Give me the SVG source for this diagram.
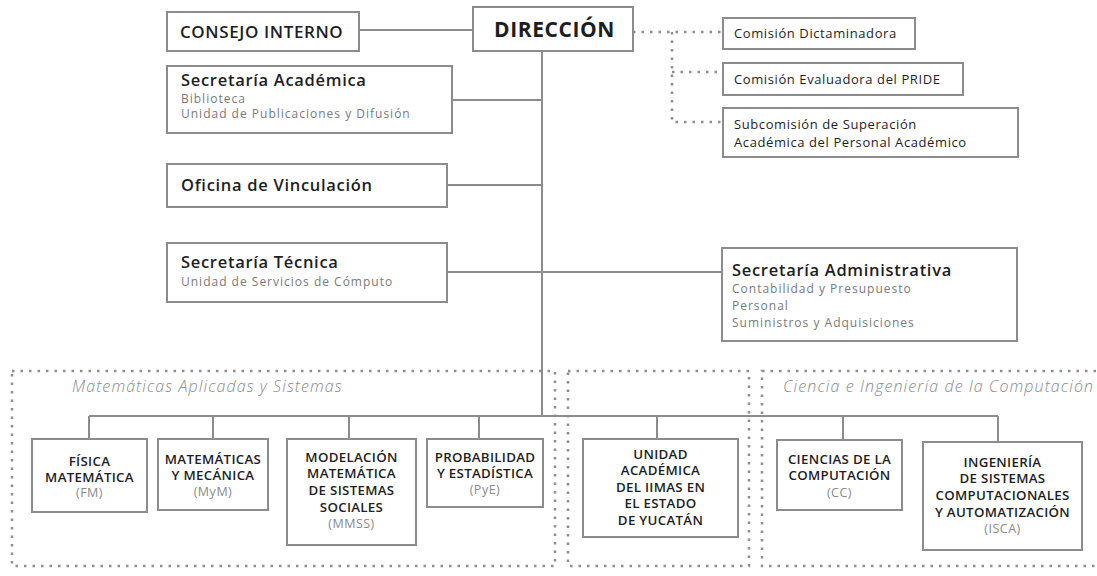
<svg xmlns="http://www.w3.org/2000/svg" width="1097" height="576" viewBox="0 0 1097 576">
<style>
  .box{fill:#fff;stroke:#8c8c8c;stroke-width:2}
  .ln{fill:none;stroke:#8c8c8c;stroke-width:2}
  .dot{fill:none;stroke:#8e8e8e;stroke-width:2.5;stroke-dasharray:2.5 6}
  text{font-family:"Open Sans","Noto Sans","DejaVu Sans",sans-serif;fill:#1e1e1e}
  .big{font-size:17px;font-weight:600;letter-spacing:0.6px}
  .dir{font-size:21px;font-weight:700;letter-spacing:0.6px}
  .ttl{font-size:16.5px;font-weight:600;letter-spacing:0.7px}
  .sub{font-size:12px;fill:#7a7a7a;letter-spacing:1px}
  .com{font-size:13px;font-weight:500;letter-spacing:0.6px}
  .unit{font-size:13.3px;font-weight:600;text-anchor:middle;letter-spacing:0.3px}
  .abbr{font-size:12.5px;fill:#8a8a8a;text-anchor:middle;letter-spacing:0.5px}
  .area{font-size:16px;font-style:italic;font-weight:300;fill:#8a8a8a;letter-spacing:1.1px}
</style>
<rect width="1097" height="576" fill="#fff"/>

<g id="areas">
  <rect class="dot" x="12" y="371" width="543" height="195"/>
  <rect class="dot" x="568" y="371" width="181" height="195"/>
  <rect class="dot" x="762" y="371" width="345" height="195"/>
  <text class="area" x="72" y="392">Matemáticas Aplicadas y Sistemas</text>
  <text class="area" x="783" y="392">Ciencia e Ingeniería de la Computación</text>
</g>

<g id="connectors">
  <line class="ln" x1="359" y1="30" x2="473" y2="30"/>
  <line class="ln" x1="542" y1="51" x2="542" y2="416"/>
  <line class="ln" x1="452" y1="100" x2="542" y2="100"/>
  <line class="ln" x1="447" y1="185" x2="542" y2="185"/>
  <line class="ln" x1="447" y1="272" x2="722" y2="272"/>
  <line class="ln" x1="89" y1="416" x2="998" y2="416"/>
  <line class="ln" x1="89" y1="416" x2="89" y2="439"/>
  <line class="ln" x1="213" y1="416" x2="213" y2="439"/>
  <line class="ln" x1="349" y1="416" x2="349" y2="439"/>
  <line class="ln" x1="479" y1="416" x2="479" y2="439"/>
  <line class="ln" x1="657" y1="416" x2="657" y2="439"/>
  <line class="ln" x1="843" y1="416" x2="843" y2="440"/>
  <line class="ln" x1="998" y1="416" x2="998" y2="442"/>
  <polyline class="dot" points="633,32 723,32"/>
  <polyline class="dot" points="672,32 672,122 723,122"/>
  <polyline class="dot" points="672,72 723,72"/>
</g>

<g id="consejo">
  <rect class="box" x="167" y="12" width="192" height="39"/>
  <text class="big" x="180" y="38">CONSEJO INTERNO</text>
</g>
<g id="direccion">
  <rect class="box" x="473" y="7" width="160" height="44"/>
  <text class="dir" x="494" y="37">DIRECCIÓN</text>
</g>
<g id="sec-academica">
  <rect class="box" x="167" y="66" width="285" height="67"/>
  <text class="ttl" x="181" y="86">Secretaría Académica</text>
  <text class="sub" x="181" y="103">Biblioteca</text>
  <text class="sub" x="181" y="118">Unidad de Publicaciones y Difusión</text>
</g>
<g id="oficina">
  <rect class="box" x="167" y="164" width="280" height="43"/>
  <text class="ttl" x="181" y="191">Oficina de Vinculación</text>
</g>
<g id="sec-tecnica">
  <rect class="box" x="167" y="243" width="280" height="59"/>
  <text class="ttl" x="181" y="268">Secretaría Técnica</text>
  <text class="sub" x="181" y="286">Unidad de Servicios de Cómputo</text>
</g>
<g id="sec-admin">
  <rect class="box" x="722" y="248" width="295" height="93"/>
  <text class="ttl" x="732" y="276">Secretaría Administrativa</text>
  <text class="sub" x="732" y="293">Contabilidad y Presupuesto</text>
  <text class="sub" x="732" y="310">Personal</text>
  <text class="sub" x="732" y="327">Suministros y Adquisiciones</text>
</g>
<g id="com-dictaminadora">
  <rect class="box" x="723" y="18" width="192" height="31"/>
  <text class="com" x="734" y="38">Comisión Dictaminadora</text>
</g>
<g id="com-evaluadora">
  <rect class="box" x="723" y="63" width="240" height="32"/>
  <text class="com" x="734" y="84">Comisión Evaluadora del PRIDE</text>
</g>
<g id="subcomision">
  <rect class="box" x="723" y="108" width="295" height="49"/>
  <text class="com" x="734" y="129">Subcomisión de Superación</text>
  <text class="com" x="734" y="147">Académica del Personal Académico</text>
</g>

<g id="fm">
  <rect class="box" x="32" y="439" width="115" height="73"/>
  <text class="unit" x="89.5" y="466">FÍSICA</text>
  <text class="unit" x="89.5" y="482">MATEMÁTICA</text>
  <text class="abbr" x="89.5" y="497">(FM)</text>
</g>
<g id="mym">
  <rect class="box" x="158" y="439" width="110" height="71"/>
  <text class="unit" x="213" y="464">MATEMÁTICAS</text>
  <text class="unit" x="213" y="480">Y MECÁNICA</text>
  <text class="abbr" x="213" y="496">(MyM)</text>
</g>
<g id="mmss">
  <rect class="box" x="287" y="439" width="129" height="106"/>
  <text class="unit" x="351.5" y="462">MODELACIÓN</text>
  <text class="unit" x="351.5" y="478">MATEMÁTICA</text>
  <text class="unit" x="351.5" y="495">DE SISTEMAS</text>
  <text class="unit" x="351.5" y="512">SOCIALES</text>
  <text class="abbr" x="351.5" y="528">(MMSS)</text>
</g>
<g id="pye">
  <rect class="box" x="427" y="439" width="116" height="68"/>
  <text class="unit" x="485" y="462">PROBABILIDAD</text>
  <text class="unit" x="485" y="478">Y ESTADÍSTICA</text>
  <text class="abbr" x="485" y="494">(PyE)</text>
</g>
<g id="yucatan">
  <rect class="box" x="583" y="439" width="155" height="98"/>
  <text class="unit" x="660.5" y="459">UNIDAD</text>
  <text class="unit" x="660.5" y="475">ACADÉMICA</text>
  <text class="unit" x="660.5" y="492">DEL IIMAS EN</text>
  <text class="unit" x="660.5" y="508">EL ESTADO</text>
  <text class="unit" x="660.5" y="525">DE YUCATÁN</text>
</g>
<g id="cc">
  <rect class="box" x="777" y="440" width="125" height="70"/>
  <text class="unit" x="839.5" y="464">CIENCIAS DE LA</text>
  <text class="unit" x="839.5" y="480">COMPUTACIÓN</text>
  <text class="abbr" x="839.5" y="497">(CC)</text>
</g>
<g id="isca">
  <rect class="box" x="923" y="442" width="159" height="108"/>
  <text class="unit" x="1002.5" y="467">INGENIERÍA</text>
  <text class="unit" x="1002.5" y="483">DE SISTEMAS</text>
  <text class="unit" x="1002.5" y="500">COMPUTACIONALES</text>
  <text class="unit" x="1002.5" y="517">Y AUTOMATIZACIÓN</text>
  <text class="abbr" x="1002.5" y="533">(ISCA)</text>
</g>
</svg>
